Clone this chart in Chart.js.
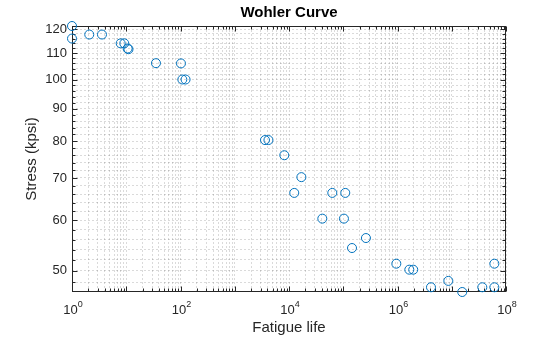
<!DOCTYPE html>
<html>
<head>
<meta charset="utf-8">
<script src="https://cdn.jsdelivr.net/npm/chart.js@4"></script>
<style>
  html, body { margin: 0; padding: 0; background: #fff; }
  #wrap { width: 560px; height: 337px; }
</style>
</head>
<body>
<div id="wrap"><canvas id="wohlerChart"></canvas></div>
<script>
// fatigue life (cycles) and stress (kpsi)
var lifeCycles = [1, 1, 2.08, 3.57, 7.9, 9.2, 10.6, 11.0, 35.3, 102, 108, 124,
    3610, 4180, 8190, 16900, 12500, 62800, 109000, 41100, 103000, 262000, 145000,
    951000, 1.65e6, 1.95e6, 4.14e6, 8.65e6, 1.56e7, 3.66e7, 6.1e7, 6.1e7];
var stressKpsi = [121.4, 116.0, 117.7, 117.7, 114.0, 114.0, 111.9, 111.6, 106.1, 106.0, 100.0, 100.0,
    80.3, 80.3, 76.0, 70.2, 66.3, 66.3, 66.3, 60.4, 60.4, 56.3, 54.3,
    51.3, 50.2, 50.2, 47.1, 48.2, 46.3, 47.1, 47.1, 51.3];
var xDecades = [0, 1, 2, 3, 4, 5, 6, 7, 8];
var xLabelled = [0, 2, 4, 6, 8];
var yLabels = [50, 60, 70, 80, 90, 100, 110, 120];
var chartTitle = 'Wohler Curve';

var textColor = '#262626';
var gridColor = 'rgba(38,38,38,0.17)';
var fontFam = "'Liberation Sans', Arial, sans-serif";

var points = lifeCycles.map(function (v, i) { return { x: v, y: stressKpsi[i] }; });

function isDecade(v) {
    var e = Math.log10(v);
    return Math.abs(e - Math.round(e)) < 1e-9;
}

// box round the plot with inward ticks, like the original
var frame = {
    id: 'frame',
    beforeDatasetsDraw: function (chart) {
        var ctx = chart.ctx, a = chart.chartArea;
        var x = chart.scales.x, y = chart.scales.y;
        var l = Math.round(a.left) + 0.5, r = Math.round(a.right) - 0.5;
        var t = Math.round(a.top) + 0.5, b = Math.round(a.bottom) - 0.5;
        ctx.save();
        ctx.strokeStyle = textColor;
        ctx.lineWidth = 1;
        ctx.beginPath();
        x.ticks.forEach(function (tk) {
            var px = Math.round(x.getPixelForValue(tk.value)) + 0.5;
            var len = isDecade(tk.value) ? 5 : 3;
            ctx.moveTo(px, b); ctx.lineTo(px, b - len);
            ctx.moveTo(px, t); ctx.lineTo(px, t + len);
        });
        y.ticks.forEach(function (tk) {
            var py = Math.round(y.getPixelForValue(tk.value)) + 0.5;
            var len = tk.value % 10 === 0 ? 5 : 3;
            ctx.moveTo(l, py); ctx.lineTo(l + len, py);
            ctx.moveTo(r, py); ctx.lineTo(r - len, py);
        });
        ctx.stroke();
        ctx.strokeRect(l, t, r - l, b - t);
        ctx.restore();
    },
    afterDraw: function (chart) {
        var ctx = chart.ctx, a = chart.chartArea, x = chart.scales.x;
        ctx.save();
        // title centred over the plot box
        ctx.fillStyle = '#000';
        ctx.font = 'bold 15px ' + fontFam;
        ctx.textAlign = 'center';
        ctx.textBaseline = 'middle';
        ctx.fillText(chartTitle, (a.left + a.right) / 2, 13);
        // 10^n tick labels with a raised exponent
        ctx.fillStyle = textColor;
        ctx.textBaseline = 'alphabetic';
        xLabelled.forEach(function (e) {
            var px = x.getPixelForValue(Math.pow(10, e));
            ctx.font = '13px ' + fontFam;
            var w1 = ctx.measureText('10').width;
            ctx.font = '9px ' + fontFam;
            var w2 = ctx.measureText(String(e)).width;
            var left = px - (w1 + w2) / 2 + 1;
            ctx.textAlign = 'left';
            ctx.font = '13px ' + fontFam;
            ctx.fillText('10', left, a.bottom + 22);
            ctx.font = '9px ' + fontFam;
            ctx.fillText(String(e), left + w1, a.bottom + 15);
        });
        ctx.restore();
    }
};

var ctx = document.getElementById('wohlerChart').getContext('2d');
var wohlerChart = new Chart(ctx, {
    type: 'scatter',
    data: {
        datasets: [{
            label: 'Stress',
            data: points,
            showLine: false,
            pointStyle: 'circle',
            pointRadius: 4.5,
            pointHoverRadius: 4.5,
            borderWidth: 1,
            borderColor: '#0072BD',
            backgroundColor: 'rgba(0,0,0,0)',
            clip: false
        }]
    },
    options: {
        responsive: true,
        maintainAspectRatio: false,
        animation: false,
        layout: { padding: { left: 18, right: 54, top: 26, bottom: 0 } },
        plugins: {
            legend: { display: false },
            tooltip: { enabled: false },
            title: { display: false }
        },
        scales: {
            x: {
                type: 'logarithmic',
                min: 1,
                max: 1e8,
                border: { display: false, dash: [2, 2] },
                grid: { color: gridColor, drawTicks: false },
                ticks: {
                    color: textColor,
                    padding: 9,
                    maxRotation: 0,
                    autoSkip: false,
                    font: { family: fontFam, size: 13 },
                    callback: function () { return ''; }
                },
                afterBuildTicks: function (axis) {
                    var ticks = [];
                    xDecades.forEach(function (d) {
                        for (var m = 1; m <= 9; m++) {
                            var v = m * Math.pow(10, d);
                            if (v <= 1e8) ticks.push({ value: v });
                        }
                    });
                    axis.ticks = ticks;
                },
                afterFit: function (axis) { axis.height = 45; },
                title: {
                    display: true,
                    text: 'Fatigue life',
                    color: textColor,
                    font: { family: fontFam, size: 15 },
                    padding: { top: 0, bottom: 0 }
                }
            },
            y: {
                type: 'logarithmic',
                min: Math.min.apply(null, stressKpsi),
                max: Math.max.apply(null, stressKpsi),
                border: { display: false, dash: [2, 2] },
                grid: { color: gridColor, drawTicks: false },
                ticks: {
                    color: textColor,
                    padding: 5,
                    autoSkip: false,
                    font: { family: fontFam, size: 13 },
                    callback: function (v) {
                        return yLabels.indexOf(v) >= 0 ? String(v) : '';
                    }
                },
                afterBuildTicks: function (axis) {
                    var ticks = [];
                    for (var v = 48; v <= 120; v += 2) ticks.push({ value: v });
                    axis.ticks = ticks;
                },
                afterFit: function (axis) { axis.width = 54; },
                title: {
                    display: true,
                    text: 'Stress (kpsi)',
                    color: textColor,
                    font: { family: fontFam, size: 15 },
                    padding: { top: 5, bottom: 4 }
                }
            }
        }
    },
    plugins: [frame]
});
</script>
</body>
</html>
